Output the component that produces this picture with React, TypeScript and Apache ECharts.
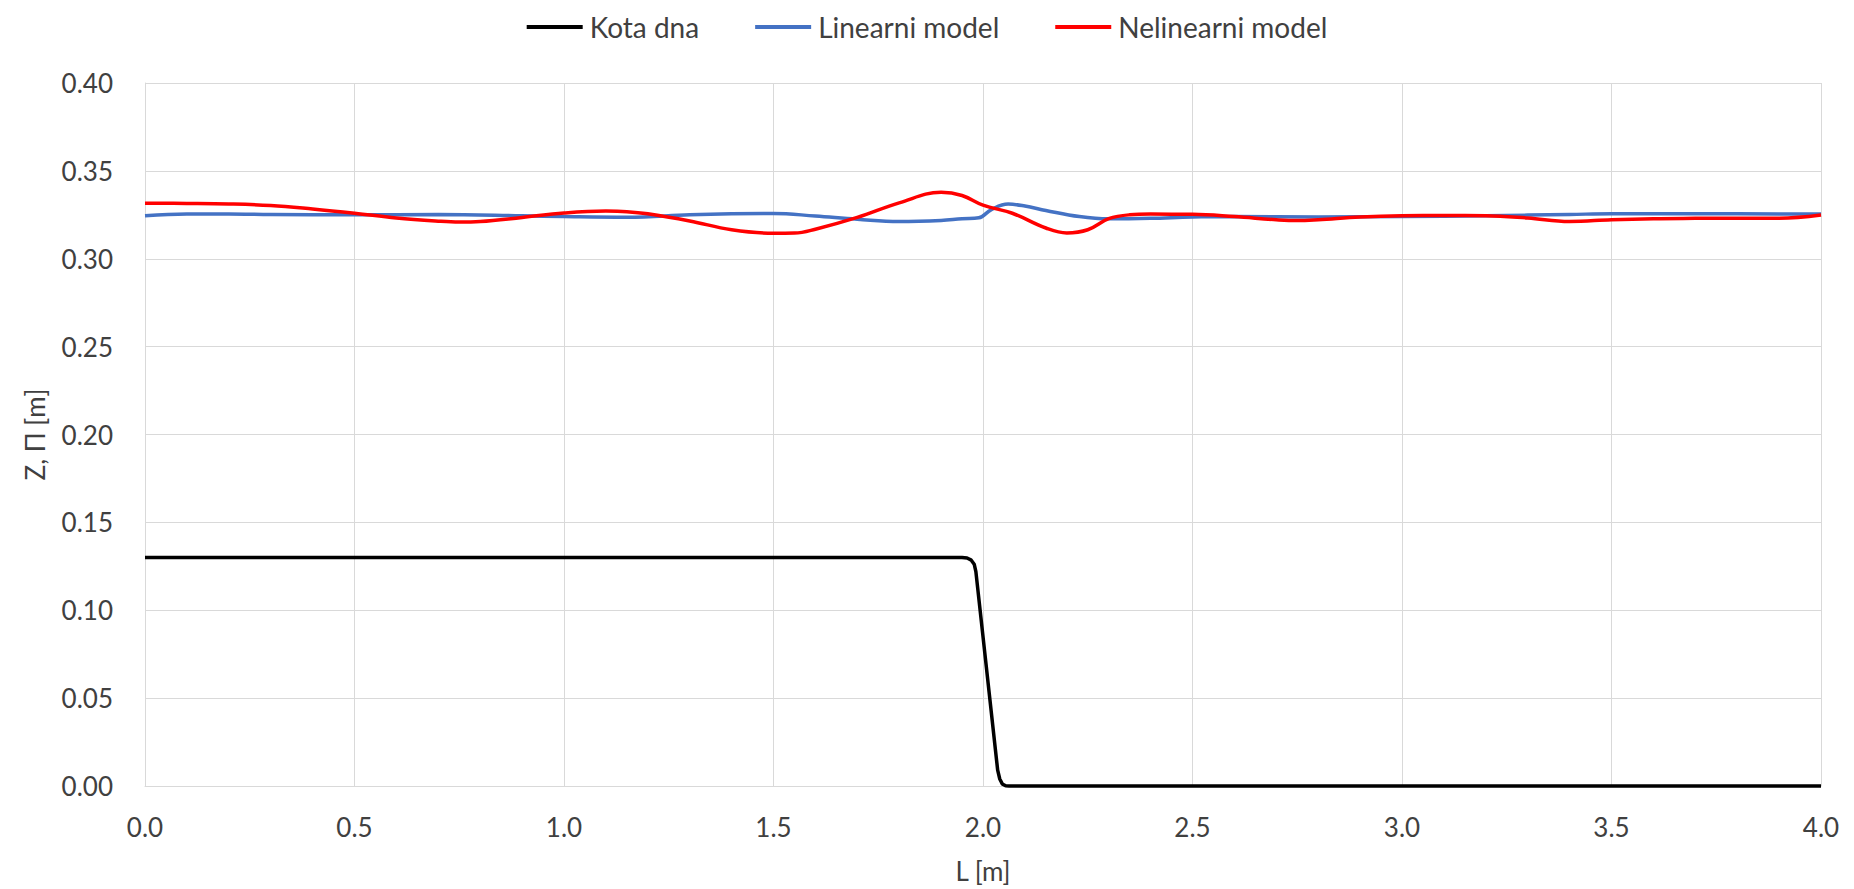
import React, { useEffect, useRef } from "react";
import * as echarts from "echarts";

const xTicks = [0, 0.5, 1, 1.5, 2, 2.5, 3, 3.5, 4];
const legendNames = ["Kota dna", "Linearni model", "Nelinearni model"];

const kotaDna: [number, number][] = [
  [0, 0.13], [1.95, 0.13], [1.962, 0.1297], [1.972, 0.1285], [1.979, 0.1262], [1.983, 0.122],
  [2.035, 0.009], [2.04, 0.004], [2.046, 0.0012], [2.054, 0.0001], [2.062, 0], [4.0, 0],
];

const linearni: [number, number][] = [
  [0.0, 0.3245], [0.1, 0.3254], [0.2, 0.3255], [0.3, 0.3252], [0.5, 0.325], [0.7, 0.3252],
  [0.9, 0.3245], [1.0, 0.324], [1.15, 0.3236], [1.3, 0.325], [1.4, 0.3256], [1.5, 0.3258],
  [1.6, 0.3243], [1.7, 0.3225], [1.8, 0.3212], [1.9, 0.3218], [1.95, 0.3228], [1.99, 0.3233],
  [2.02, 0.328], [2.06, 0.3311], [2.1, 0.33], [2.15, 0.3275], [2.23, 0.324], [2.3, 0.3227],
  [2.4, 0.323], [2.5, 0.3238], [2.6, 0.324], [2.8, 0.3238], [3.0, 0.324], [3.2, 0.3245],
  [3.4, 0.3252], [3.5, 0.3256], [3.7, 0.3256], [3.9, 0.3255], [4.0, 0.3255],
];

const nelinearni: [number, number][] = [
  [0.0, 0.3316], [0.1, 0.3315], [0.2, 0.3312], [0.3, 0.3303], [0.4, 0.3283], [0.5, 0.3259],
  [0.6, 0.3232], [0.7, 0.3214], [0.75, 0.3209], [0.8, 0.3212], [0.9, 0.3235], [1.0, 0.326],
  [1.1, 0.3271], [1.15, 0.3268], [1.2, 0.3256], [1.3, 0.3215], [1.4, 0.3165], [1.5, 0.3145],
  [1.55, 0.3146], [1.6, 0.3168], [1.7, 0.3235], [1.8, 0.3318], [1.9, 0.3378], [1.95, 0.336],
  [2.0, 0.3305], [2.07, 0.3259], [2.15, 0.3175], [2.2, 0.3147], [2.25, 0.3165], [2.3, 0.3228],
  [2.35, 0.325], [2.4, 0.3254], [2.5, 0.3253], [2.6, 0.324], [2.7, 0.3222], [2.75, 0.3217],
  [2.8, 0.3222], [2.9, 0.3238], [3.0, 0.3245], [3.1, 0.3246], [3.2, 0.3245], [3.3, 0.3232],
  [3.4, 0.3212], [3.5, 0.3222], [3.6, 0.3228], [3.7, 0.323], [3.8, 0.3231], [3.9, 0.3231],
  [4.0, 0.3249],
];

const FONT = "Lato";
const TXT = "#404040";
const GRID = "#d9d9d9";

export default function App() {
  const ref = useRef<HTMLDivElement>(null);
  useEffect(() => {
    if (!ref.current) return;
    const chart = echarts.init(ref.current, undefined, { renderer: "svg" });
    chart.setOption({
      animation: false,
      backgroundColor: "#ffffff",
      textStyle: { fontFamily: FONT },
      legend: {
        top: 8,
        left: "center",
        icon: "rect",
        itemWidth: 56,
        itemHeight: 4,
        itemGap: 56,
        data: legendNames,
        textStyle: { fontFamily: FONT, fontSize: 28, color: TXT, padding: [0, 0, 0, 2] },
      },
      grid: { left: 145, right: 33, top: 83, bottom: 103 },
      xAxis: {
        type: "value",
        min: xTicks[0],
        max: xTicks[xTicks.length - 1],
        interval: 0.5,
        name: "L [m]",
        nameLocation: "middle",
        nameGap: 72,
        nameTextStyle: { fontFamily: FONT, fontSize: 26, color: TXT },
        axisLine: { show: true, lineStyle: { color: GRID, width: 1 } },
        axisTick: { show: false },
        axisLabel: {
          fontFamily: FONT, fontSize: 26, color: TXT, margin: 28,
          formatter: (v: number) => v.toFixed(1),
        },
        splitLine: { show: true, lineStyle: { color: GRID, width: 1 } },
      },
      yAxis: {
        type: "value",
        min: 0,
        max: 0.4,
        interval: 0.05,
        name: "Z, Π [m]",
        nameLocation: "middle",
        nameGap: 97,
        nameTextStyle: { fontFamily: FONT, fontSize: 26, color: TXT },
        axisLine: { show: true, lineStyle: { color: GRID, width: 1 } },
        axisTick: { show: false },
        axisLabel: {
          fontFamily: FONT, fontSize: 26, color: TXT, margin: 32,
          formatter: (v: number) => v.toFixed(2),
        },
        splitLine: { show: true, lineStyle: { color: GRID, width: 1 } },
      },
      series: [
        {
          name: legendNames[0], type: "line", data: kotaDna, symbol: "none",
          clip: false, lineStyle: { color: "#000000", width: 3.5 }, itemStyle: { color: "#000000" },
          z: 2,
        },
        {
          name: legendNames[1], type: "line", data: linearni, symbol: "none", smooth: 0.4,
          lineStyle: { color: "#4472C4", width: 3.5 }, itemStyle: { color: "#4472C4" }, z: 3,
        },
        {
          name: legendNames[2], type: "line", data: nelinearni, symbol: "none", smooth: 0.4,
          lineStyle: { color: "#FF0000", width: 3.5 }, itemStyle: { color: "#FF0000" }, z: 4,
        },
      ],
    });
    return () => chart.dispose();
  }, []);
  return (
    <div
      ref={ref}
      style={{ position: "fixed", left: 0, top: 0, width: 1854, height: 889, background: "#fff" }}
    />
  );
}
